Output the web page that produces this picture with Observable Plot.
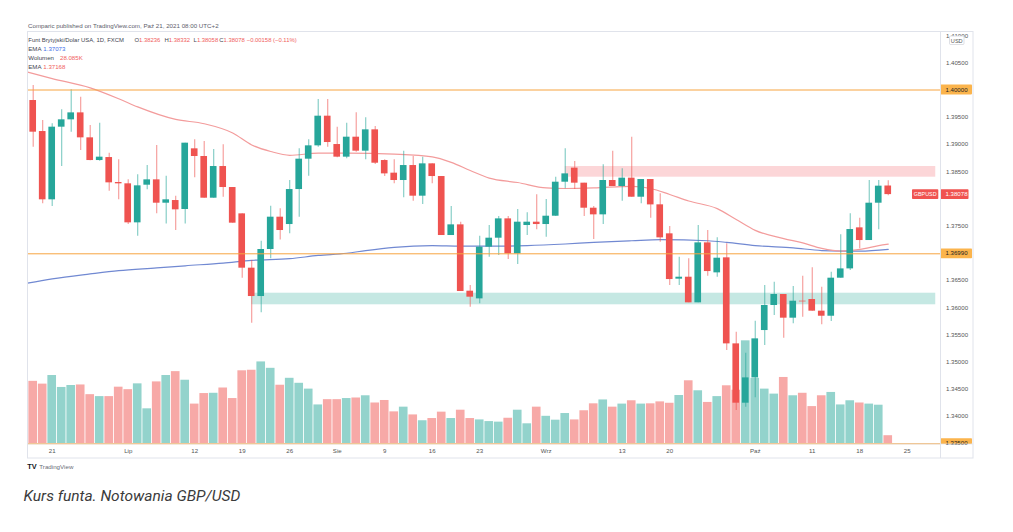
<!DOCTYPE html>
<html><head><meta charset="utf-8">
<script src="https://cdn.jsdelivr.net/npm/d3@7"></script>
<script src="https://cdn.jsdelivr.net/npm/@observablehq/plot@0.6"></script>
<style>
html,body{margin:0;padding:0;background:#fff;}
#wrap{position:relative;width:1013px;height:532px;overflow:hidden;background:#fff;}
#wrap svg{position:absolute;left:0;top:0;}
</style></head><body><div id="wrap"></div>
<script>
// ---- Data: GBP/USD daily candles, 17 Jun 2021 – 21 Oct 2021 (trading-day index 0..90)
const open = [1.39807,1.39237,1.37982,1.39317,1.39452,1.39580,1.39121,1.38704,1.38759,1.38300,
1.38276,1.37559,1.38251,1.38349,1.37920,1.37969,1.37804,1.38919,1.38778,1.38012,
1.38594,1.38208,1.37724,1.36726,1.36205,1.37069,1.37663,1.37528,1.38171,1.38729,
1.38974,1.39519,1.38998,1.38766,1.39133,1.38876,1.39268,1.38704,1.38472,1.38337,
1.38612,1.38049,1.38643,1.38410,1.37326,1.37522,1.36303,1.36162,1.37112,1.37277,
1.37632,1.36989,1.37510,1.37571,1.37528,1.37681,1.38306,1.38564,1.38288,1.37828,
1.37706,1.38337,1.38227,1.38380,1.38030,1.38355,1.37890,1.37357,1.36524,1.36560,
1.36089,1.37191,1.36640,1.36916,1.35335,1.34245,1.34710,1.35580,1.36040,1.36242,
1.35807,1.36119,1.36150,1.35936,1.35843,1.36542,1.36713,1.37467,1.37234,1.37920,1.38236];
const high = [1.40083,1.39439,1.39378,1.39635,1.40003,1.39868,1.39348,1.39390,1.38839,1.38717,
1.38349,1.38441,1.38612,1.38980,1.38416,1.38049,1.39023,1.39084,1.39054,1.38907,
1.38992,1.38208,1.37724,1.36867,1.37222,1.37865,1.37816,1.38337,1.38919,1.39084,
1.39825,1.39825,1.39317,1.39390,1.39580,1.39489,1.39329,1.38717,1.38717,1.38876,
1.38778,1.38766,1.38643,1.38410,1.37859,1.37571,1.36407,1.37314,1.37510,1.37675,
1.37675,1.37804,1.37743,1.38073,1.37988,1.38398,1.38919,1.38686,1.38288,1.37859,
1.38625,1.38876,1.38551,1.39133,1.38355,1.38355,1.38092,1.37491,1.36928,1.36897,
1.37510,1.37418,1.37283,1.37173,1.35550,1.35163,1.35752,1.36407,1.36468,1.36242,
1.36389,1.36579,1.36732,1.36377,1.36652,1.37338,1.37724,1.37645,1.38337,1.38337,1.38332];
const low = [1.38949,1.37908,1.37859,1.38594,1.39225,1.38888,1.38698,1.38692,1.38141,1.37982,
1.37528,1.37314,1.38165,1.37724,1.37540,1.37418,1.37540,1.38386,1.38012,1.38012,
1.38031,1.37553,1.36542,1.35715,1.35905,1.36897,1.37246,1.37357,1.37663,1.38416,
1.38949,1.38949,1.38753,1.38735,1.38858,1.38717,1.38631,1.38410,1.38276,1.38018,
1.37957,1.37896,1.38276,1.37326,1.37326,1.36297,1.36009,1.36070,1.36928,1.36958,
1.36885,1.36793,1.37326,1.37430,1.37295,1.37675,1.38184,1.38171,1.37675,1.37253,
1.37528,1.38227,1.37957,1.38030,1.37908,1.37645,1.37203,1.36407,1.36407,1.36089,
1.36089,1.36579,1.36560,1.35212,1.34110,1.34171,1.34343,1.35304,1.35856,1.35439,
1.35703,1.35825,1.35936,1.35685,1.35746,1.36542,1.36683,1.37081,1.37234,1.37430,1.38058];
const close = [1.39225,1.37982,1.39317,1.39452,1.39580,1.39121,1.38704,1.38766,1.38294,1.38276,
1.37559,1.38239,1.38349,1.37920,1.37982,1.37798,1.39023,1.38778,1.38012,1.38594,
1.38208,1.37553,1.36726,1.36205,1.37069,1.37663,1.37418,1.38171,1.38729,1.38974,
1.39519,1.39035,1.38766,1.39133,1.38876,1.39268,1.38655,1.38459,1.38337,1.38612,
1.38049,1.38643,1.38410,1.37326,1.37522,1.36297,1.36193,1.37112,1.37277,1.37632,
1.36989,1.37571,1.37571,1.37528,1.37681,1.38306,1.38459,1.38288,1.37828,1.37706,
1.38337,1.38227,1.38380,1.38030,1.38355,1.37889,1.37283,1.36517,1.36560,1.36089,
1.37191,1.36664,1.36909,1.35335,1.34245,1.34710,1.35427,1.36040,1.36242,1.35807,
1.36119,1.36107,1.35936,1.35843,1.36542,1.36713,1.37436,1.37234,1.37920,1.38233,1.38078];
// volume, thousands
const volume = [224,214,245,202,209,211,176,169,169,203,194,215,125,222,245,259,228,142,180,181,
200,162,262,264,294,271,210,235,217,196,139,158,158,162,164,172,146,155,114,131,
103,82,90,113,90,120,90,85,79,77,91,120,71,131,98,84,108,85,118,143,
157,131,142,154,142,143,150,145,173,226,190,148,169,208,192,370,235,196,178,238,
172,181,133,172,184,139,154,146,142,138,28.085];
// EMA lines (trading-day index, value)
const emaRedDay = [-0.6,2,6,9,11,15,18,21,23,25,27,30,33,38,42,44,46,48,51,54,56,59,63,65,67,69,72,74,76,79,81,83,85,87,89,90];
const emaRedVal = [1.4033,1.4021,1.4004,1.3984,1.3969,1.3946,1.3938,1.3921,1.3899,1.3887,1.3880,1.3884,1.3884,1.3882,1.3877,1.3867,1.3852,1.3838,1.3830,1.3820,1.3819,1.3820,1.3823,1.3819,1.3808,1.3796,1.3782,1.3762,1.3742,1.3727,1.3719,1.3709,1.3704,1.3707,1.3714,1.37168];
const emaBlueDay = [-0.6,2,6,9,13,16,20,23,27,30,33,35,38,42,45,49,52,56,59,63,66,71,73,76,80,83,87,90];
const emaBlueVal = [1.3645,1.3653,1.3662,1.3668,1.3673,1.3677,1.3682,1.3687,1.3690,1.3696,1.3700,1.3705,1.3711,1.3714,1.3713,1.3713,1.3714,1.3717,1.3720,1.3723,1.3725,1.3723,1.3720,1.3714,1.3710,1.3705,1.3704,1.37073];
// horizontal levels and zones
const levels = [1.40000, 1.36990, 1.33500];
const levelLabels = ["1.40000", "1.36990", "1.33500"];
const zoneFrom = [56, 23];
const zoneTo = [95, 95];
const zoneLow = [1.38398, 1.36053];
const zoneHigh = [1.38594, 1.36266];
const zoneColor = ["#fcd6d8", "#c5e8e3"];
// axis ticks (values covered by the price tags are shown by the tags themselves)
const tickDays = [2,10,17,22,27,32,37,42,47,54,62,67,76,82,87,92];
const tickLabels = ["21","Lip","12","19","26","Sie","9","16","23","Wrz","13","20","Paź","11","18","25"];
const priceTicks = [1.340,1.345,1.350,1.355,1.360,1.365,1.375,1.385,1.390,1.395,1.405,1.410];

// ---- Build
const UP = "#26a69a", DOWN = "#ef5350", VUP = "#93d3cc", VDOWN = "#f7a9a7";
const W = 1013, H = 460;
const M = {left: 27, right: 73, top: 31.5, bottom: 16.5};
const xDomain = [-0.6, 95.5];
const candles = open.map((o, i) => ({i, open: o, high: high[i], low: low[i], close: close[i], volume: volume[i], up: close[i] >= o}));
const emaRed = emaRedDay.map((d, k) => ({d, v: emaRedVal[k]}));
const emaBlue = emaBlueDay.map((d, k) => ({d, v: emaBlueVal[k]}));
const zones = zoneFrom.map((f, k) => ({x1: f, x2: zoneTo[k], y1: zoneLow[k], y2: zoneHigh[k], fill: zoneColor[k]}));
const font = "'Liberation Sans', Arial, sans-serif";

const volPlot = Plot.plot({
  width: W, height: H, marginLeft: M.left, marginRight: M.right, marginTop: M.top, marginBottom: H - 443,
  x: {domain: xDomain, axis: null}, y: {domain: [0, 1483], axis: null},
  color: {type: "identity"},
  style: {background: "#fff"},
  marks: [
    Plot.rect(candles, {x1: d => d.i - 0.455, x2: d => d.i + 0.455, y1: 0, y2: "volume", fill: d => d.up ? VUP : VDOWN})
  ]
});

const chart = Plot.plot({
  width: W, height: H, marginLeft: M.left, marginRight: M.right, marginTop: M.top, marginBottom: M.bottom,
  x: {domain: xDomain, axis: "bottom", ticks: tickDays, tickFormat: d => tickLabels[tickDays.indexOf(d)], tickSize: 0, tickPadding: 4.8, label: null},
  y: {domain: [1.33495, 1.41066], axis: "right", ticks: priceTicks, tickFormat: d3.format(".5f"), tickSize: 0, tickPadding: 5.5, label: null},
  color: {type: "identity"},
  style: {background: "transparent", fontFamily: font, fontSize: "6.1px", color: "#555", overflow: "visible"},
  marks: [
    Plot.rect(zones, {x1: "x1", x2: "x2", y1: "y1", y2: "y2", fill: "fill"}),
    Plot.line(emaBlue, {x: "d", y: "v", stroke: "#7189d2", strokeWidth: 1.2, curve: "monotone-x"}),
    Plot.line(emaRed, {x: "d", y: "v", stroke: "#f39c9c", strokeWidth: 1.2, curve: "monotone-x"}),
    Plot.ruleX(candles, {x: "i", y1: "low", y2: "high", stroke: d => d.up ? UP : DOWN, strokeWidth: 1.1, strokeOpacity: 0.6}),
    Plot.rect(candles, {x1: d => d.i - 0.35, x2: d => d.i + 0.35, y1: "open", y2: "close", fill: d => d.up ? UP : DOWN}),
    Plot.ruleY(levels, {stroke: "#f7a440", strokeWidth: 1})
  ]
});

const wrap = document.getElementById("wrap");
wrap.appendChild(volPlot);
wrap.appendChild(chart);

// price tags on the right axis, positioned with the plot's y scale
const ys = chart.scale("y");
const sv = d3.select(chart);
function tag(v, label, fill, color, x0, w, clipBottom, anchor, size) {
  const y = ys.apply(v);
  let top = y - 4.9, h = 9.8;
  if (clipBottom && top + h > clipBottom) h = clipBottom - top;
  sv.append("rect").attr("x", x0).attr("y", top).attr("width", w).attr("height", h).attr("fill", fill).attr("rx", 0.8);
  sv.append("text").attr("x", anchor === "middle" ? x0 + w / 2 : x0 + 5).attr("y", y).attr("dy", "0.34em")
    .attr("text-anchor", anchor).attr("fill", color).attr("font-size", size || "6.1px").text(label);
}
tag(levels[0], levelLabels[0], "#fbb44c", "#222", 940.5, 31.5, null, "start");
tag(levels[1], levelLabels[1], "#fbb44c", "#222", 940.5, 31.5, null, "start");
tag(levels[2], levelLabels[2], "#fbb44c", "#222", 940.5, 31.5, 444, "start");
tag(close[close.length - 1], d3.format(".5f")(close[close.length - 1]), "#f05350", "#fff", 940.5, 28, null, "start");
tag(close[close.length - 1], "GBPUSD", "#f05350", "#fff", 912, 26.3, null, "middle", "5.4px");

// overlay: frame, header, legend, footer, caption
const ov = d3.select(wrap).append("svg").attr("width", W).attr("height", 532)
  .style("font-family", font);
ov.append("rect").attr("x", 940).attr("y", 18).attr("width", 34).attr("height", 13.5).attr("fill", "#fff");
const fr = "#e0e3eb";
ov.append("rect").attr("x", 27.5).attr("y", 31.5).attr("width", 945.5).attr("height", 426.5).attr("fill", "none").attr("stroke", fr);
ov.append("line").attr("x1", 940.5).attr("x2", 940.5).attr("y1", 31.5).attr("y2", 458).attr("stroke", fr);
ov.append("line").attr("x1", 27.5).attr("x2", 973).attr("y1", 444).attr("y2", 444).attr("stroke", fr).attr("stroke-opacity", 0.7);
// USD badge
ov.append("rect").attr("x", 949.5).attr("y", 36).attr("width", 14.5).attr("height", 8.5).attr("fill", "#fff").attr("stroke", "#c8cbd3").attr("stroke-width", 0.6).attr("rx", 1);
ov.append("text").attr("x", 956.75).attr("y", 42.6).attr("text-anchor", "middle").attr("font-size", "5.6px").attr("fill", "#555").text("USD");

ov.append("text").attr("x", 28).attr("y", 28).attr("font-size", "6.2px").attr("fill", "#5d606b")
  .text("Comparic published on TradingView.com, Paź 21, 2021 08:00 UTC+2");

const RED = "#f0605c", BLUE = "#3d6fe8", TXT = "#434651";
const l1 = ov.append("text").attr("y", 42).attr("font-size", "5.9px").attr("fill", TXT);
l1.append("tspan").attr("x", 28.3).text("Funt Brytyjski/Dolar USA, 1D, FXCM");
[["O", "1.38236", 134.5], ["H", "1.38332", 164.5], ["L", "1.38058", 193.6], ["C", "1.38078", 219.3]].forEach(([k, v, x]) => {
  l1.append("tspan").attr("x", x).text(k);
  l1.append("tspan").attr("fill", RED).text(v);
});
l1.append("tspan").attr("x", 246.7).attr("fill", RED).text("−0.00158 (−0.11%)");
[["EMA", "1.37073", BLUE, 50.7, 43.3], ["Wolumen", "28.085K", RED, 59.6, 60], ["EMA", "1.37168", RED, 68.5, 43.3]].forEach(([k, v, c, y, x]) => {
  const t = ov.append("text").attr("y", y).attr("font-size", "6.1px").attr("fill", TXT);
  t.append("tspan").attr("x", 28.3).text(k);
  t.append("tspan").attr("x", x).attr("fill", c).text(v);
});

ov.append("text").attr("x", 27.3).attr("y", 469.3).attr("font-size", "7.4px").attr("font-weight", "bold").attr("fill", "#131722").text("TV");
ov.append("text").attr("x", 39.3).attr("y", 469).attr("font-size", "6.2px").attr("fill", "#6a6d78").text("TradingView");

ov.append("text").attr("x", 23.5).attr("y", 501).attr("font-family", "Roboto, 'Open Sans', sans-serif")
  .attr("font-style", "italic").attr("font-size", "15.5px").attr("fill", "#3b3b3b").text("Kurs funta. Notowania GBP/USD");
</script>
</body></html>
